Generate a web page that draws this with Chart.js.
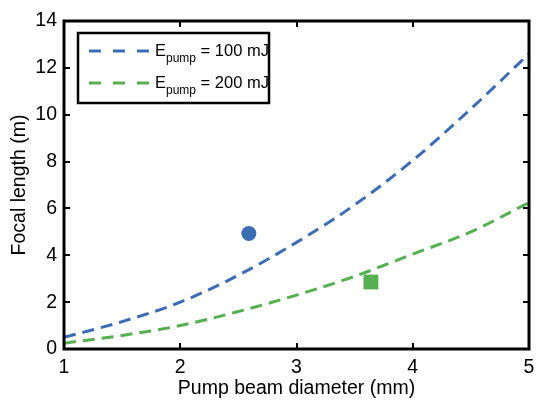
<!DOCTYPE html>
<html>
<head>
<meta charset="utf-8">
<script src="https://cdn.jsdelivr.net/npm/chart.js@4"></script>
<style>
  html, body { margin: 0; padding: 0; background: #fff; }
  #wrap { width: 536px; height: 400px; }
</style>
</head>
<body>
<div id="wrap"><canvas id="focalChart" width="536" height="400"></canvas></div>
<script>
// Data
const diameters = [1, 1.5, 2, 2.5, 3, 3.5, 4, 4.5, 5];           // mm
const focal100 = [0.5, 1.17, 2.0, 3.15, 4.55, 6.15, 8.05, 10.25, 12.6]; // m
const focal200 = [0.25, 0.58, 1.0, 1.6, 2.3, 3.1, 4.05, 5.0, 6.25];     // m
const measured100 = [{ x: 2.59, y: 4.93 }];
const measured200 = [{ x: 3.64, y: 2.86 }];
const xTicks = [1, 2, 3, 4, 5];
const yTicks = [0, 2, 4, 6, 8, 10, 12, 14];
const legendLabels = [['E', 'pump', ' = 100 mJ'], ['E', 'pump', ' = 200 mJ']];

const BLUE = '#3b6db5';
const GREEN = '#55b04f';
const FONT = '"Liberation Sans", Arial, Helvetica, sans-serif';

function toPoints(xs, ys) {
    return xs.map((x, i) => ({ x: x, y: ys[i] }));
}

// Frame, inward ticks and the legend box
const framePlugin = {
    id: 'frame',
    afterDraw(chart) {
        const ctx = chart.ctx;
        const a = chart.chartArea;
        const xs = chart.scales.x, ys = chart.scales.y;
        ctx.save();
        ctx.strokeStyle = '#000';
        ctx.lineWidth = 2;
        // inward ticks
        ctx.beginPath();
        xTicks.forEach(v => {
            const px = Math.round(xs.getPixelForValue(v));
            ctx.moveTo(px, a.bottom); ctx.lineTo(px, a.bottom - 6);
            ctx.moveTo(px, a.top); ctx.lineTo(px, a.top + 6);
        });
        yTicks.forEach(v => {
            const py = Math.round(ys.getPixelForValue(v));
            ctx.moveTo(a.left, py); ctx.lineTo(a.left + 6, py);
            ctx.moveTo(a.right, py); ctx.lineTo(a.right - 6, py);
        });
        ctx.stroke();
        // box
        ctx.lineWidth = 3;
        ctx.strokeRect(a.left, a.top, a.right - a.left, a.bottom - a.top);

        // legend
        const lx = 78, ly = 33, lw = 191, lh = 70;
        ctx.fillStyle = '#fff';
        ctx.fillRect(lx, ly, lw, lh);
        ctx.lineWidth = 2.5;
        ctx.strokeRect(lx, ly, lw, lh);
        const colors = [BLUE, GREEN];
        legendLabels.forEach((parts, i) => {
            const cy = ly + 18 + i * 32;
            ctx.strokeStyle = colors[i];
            ctx.lineWidth = 3;
            ctx.setLineDash([12, 12]);
            ctx.beginPath();
            ctx.moveTo(89, cy); ctx.lineTo(150, cy);
            ctx.stroke();
            ctx.setLineDash([]);
            ctx.fillStyle = '#000';
            ctx.textBaseline = 'middle';
            ctx.font = '16.5px ' + FONT;
            let tx = 155;
            ctx.fillText(parts[0], tx, cy);
            tx += ctx.measureText(parts[0]).width;
            ctx.font = '12px ' + FONT;
            ctx.fillText(parts[1], tx, cy + 8);
            tx += ctx.measureText(parts[1]).width;
            ctx.font = '16.5px ' + FONT;
            ctx.fillText(parts[2], tx, cy);
        });
        ctx.restore();
    }
};

const axisFont = { family: FONT, size: 19.5 };

new Chart(document.getElementById('focalChart'), {
    type: 'scatter',
    data: {
        datasets: [
            {
                label: 'E pump = 100 mJ',
                data: toPoints(diameters, focal100),
                showLine: true,
                borderColor: BLUE,
                borderWidth: 3,
                borderDash: [12, 7],
                pointRadius: 0,
                cubicInterpolationMode: 'monotone',
                order: 2
            },
            {
                label: 'E pump = 200 mJ',
                data: toPoints(diameters, focal200),
                showLine: true,
                borderColor: GREEN,
                borderWidth: 3,
                borderDash: [12, 7],
                pointRadius: 0,
                cubicInterpolationMode: 'monotone',
                order: 2
            },
            {
                label: 'measured 100 mJ',
                data: measured100,
                pointStyle: 'circle',
                pointRadius: 7.5,
                backgroundColor: BLUE,
                borderWidth: 0,
                order: 1
            },
            {
                label: 'measured 200 mJ',
                data: measured200,
                pointStyle: 'rect',
                pointRadius: 10.5,
                backgroundColor: GREEN,
                borderWidth: 0,
                order: 1
            }
        ]
    },
    options: {
        responsive: false,
        animation: false,
        devicePixelRatio: 1,
        layout: { autoPadding: false, padding: { left: 0, right: 7, top: 21, bottom: 0 } },
        plugins: {
            legend: { display: false },
            tooltip: { enabled: false }
        },
        scales: {
            x: {
                type: 'linear',
                min: 1,
                max: 5,
                afterFit: scale => {
                    scale.height = 51;
                    scale.paddingLeft = 0;
                    scale.paddingRight = 0;
                },
                afterBuildTicks: scale => { scale.ticks = xTicks.map(v => ({ value: v })); },
                grid: { display: false, drawTicks: false },
                border: { display: false },
                ticks: { color: '#000', font: axisFont, padding: 7 },
                title: {
                    display: true,
                    text: 'Pump beam diameter (mm)',
                    color: '#000',
                    font: axisFont,
                    padding: { top: 0, bottom: 0 }
                }
            },
            y: {
                type: 'linear',
                min: 0,
                max: 14,
                afterFit: scale => {
                    scale.width = 64;
                    scale.paddingTop = 0;
                    scale.paddingBottom = 0;
                },
                afterBuildTicks: scale => { scale.ticks = yTicks.map(v => ({ value: v })); },
                grid: { display: false, drawTicks: false },
                border: { display: false },
                ticks: { color: '#000', font: axisFont, padding: 7 },
                title: {
                    display: true,
                    text: 'Focal length (m)',
                    color: '#000',
                    font: axisFont,
                    padding: { top: 8, bottom: 0 }
                }
            }
        }
    },
    plugins: [framePlugin]
});
</script>
</body>
</html>
